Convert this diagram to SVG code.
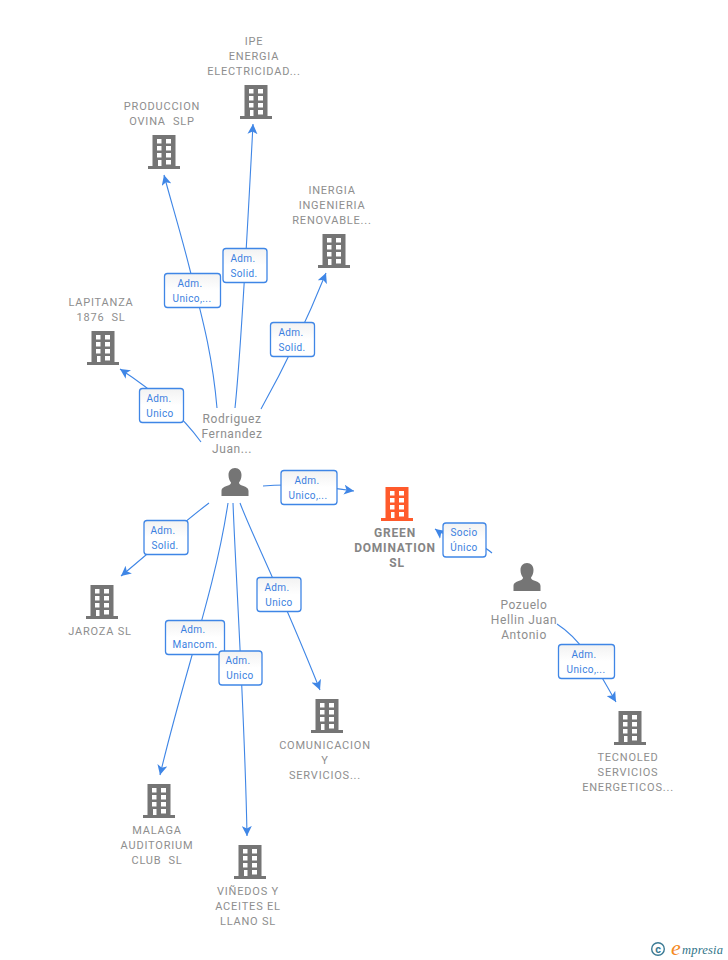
<svg xmlns="http://www.w3.org/2000/svg" width="728" height="960" viewBox="0 0 728 960">
<style>
text{font-family:Roboto,"Liberation Sans",sans-serif;white-space:pre}
.n{font-size:11px;fill:#8e8e8e;text-anchor:middle;letter-spacing:.8px}
.p{font-size:12px;fill:#8e8e8e;text-anchor:middle;letter-spacing:.6px}
.g{font-size:12px;font-weight:700;fill:#858585;text-anchor:middle;letter-spacing:.8px}
.e{font-size:10px;fill:#3a7fe0;text-anchor:middle;letter-spacing:.4px}
.b{fill:url(#lg);stroke:#3f86e6;stroke-width:1.3}
.c{fill:none;stroke:#3f86e6;stroke-width:1.1}
</style>
<defs>
<marker id="a" viewBox="0 0 10 10" refX="10" refY="5" markerWidth="10" markerHeight="10" markerUnits="userSpaceOnUse" orient="auto"><path d="M0 0L10 5L0 10L2.500 5Z" fill="#3f86e6"/></marker>
<linearGradient id="lg" x1="0" y1="0" x2="0" y2="1"><stop offset="0" stop-color="#f2f2f2"/><stop offset=".5" stop-color="#fff"/></linearGradient>
<path id="bld" fill-rule="evenodd" d="M-11.500 0H11.500V31H16V34H-16V31H-11.500ZM-7 4V8.500H-2.500V4ZM2 4V8.500H7V4ZM-7 11V15.500H-2.500V11ZM2 11V15.500H7V11ZM-7 18V22.500H-2.500V18ZM2 18V22.500H7V18ZM-6 25V31H-2.500V25ZM2 25V29.500H7V25Z"/>
<path id="per" d="M0 0C4 0 6.500 3 6.500 7C6.500 10 5.500 12.500 4 14.500C4 16 5 16.800 7 17.500C11 19 13.500 20 13.500 23V28H-13.500V23C-13.500 20 -11 19 -7 17.500C-5 16.800 -4 16 -4 14.500C-5.500 12.500 -6.500 10 -6.500 7C-6.500 3 -4 0 0 0Z"/>
</defs>
<g id="connectors">
<path class="c" d="M235 408C240 360 247 240 253 124" marker-end="url(#a)"/>
<path class="c" d="M217 408C212 350 200 310 190 270C180 230 172 205 164 175" marker-end="url(#a)"/>
<path class="c" d="M261 409C280 375 305 325 326 273" marker-end="url(#a)"/>
<path class="c" d="M201 442C185 420 160 395 120 369" marker-end="url(#a)"/>
<path class="c" d="M263 486C295 483 325 487 354 491" marker-end="url(#a)"/>
<path class="c" d="M209 503C180 525 150 552 121 576" marker-end="url(#a)"/>
<path class="c" d="M228 503C215 590 185 670 160 775" marker-end="url(#a)"/>
<path class="c" d="M233 503C236 580 245 720 247 836" marker-end="url(#a)"/>
<path class="c" d="M240 503C252 535 278 585 320 690" marker-end="url(#a)"/>
<path class="c" d="M492 553C478 540 450 540 435 529" marker-end="url(#a)"/>
<path class="c" d="M557 624C585 642 600 675 616 702" marker-end="url(#a)"/>
</g>
<g id="edge-labels">
<g><rect class="b" x="223" y="248.500" width="44" height="34" rx="3"/><text class="e" x="243" y="262">Adm.</text><text class="e" x="244" y="277">Solid.</text></g>
<g><rect class="b" x="164.500" y="273.500" width="56" height="34" rx="3"/><text class="e" x="190" y="287">Adm.</text><text class="e" x="192" y="302">Unico,...</text></g>
<g><rect class="b" x="270.500" y="322.500" width="44" height="34" rx="3"/><text class="e" x="291" y="336">Adm.</text><text class="e" x="292" y="351">Solid.</text></g>
<g><rect class="b" x="139.500" y="388.500" width="44" height="34" rx="3"/><text class="e" x="159" y="402">Adm.</text><text class="e" x="160" y="417">Unico</text></g>
<g><rect class="b" x="281" y="470.500" width="56" height="34" rx="3"/><text class="e" x="307" y="484">Adm.</text><text class="e" x="308" y="499">Unico,...</text></g>
<g><rect class="b" x="144" y="520.500" width="44" height="34" rx="3"/><text class="e" x="163" y="534">Adm.</text><text class="e" x="165" y="549">Solid.</text></g>
<g><rect class="b" x="257" y="577.500" width="44" height="34" rx="3"/><text class="e" x="277" y="591">Adm.</text><text class="e" x="279" y="606">Unico</text></g>
<g><rect class="b" x="165.500" y="620.500" width="59" height="34" rx="3"/><text class="e" x="193" y="633">Adm.</text><text class="e" x="195" y="648">Mancom.</text></g>
<g><rect class="b" x="219" y="651" width="43" height="34" rx="3"/><text class="e" x="238" y="664">Adm.</text><text class="e" x="240" y="679">Unico</text></g>
<g><rect class="b" x="443" y="523" width="43" height="34" rx="3"/><text class="e" x="464" y="536">Socio</text><text class="e" x="464" y="551">Único</text></g>
<g><rect class="b" x="558.500" y="644.500" width="56" height="34" rx="3"/><text class="e" x="584" y="658">Adm.</text><text class="e" x="586" y="673">Unico,...</text></g>
</g>
<g id="n-ipe"><use href="#bld" x="256" y="85" fill="#757575"/><text class="n" x="254" y="45">IPE</text><text class="n" x="254" y="60">ENERGIA</text><text class="n" x="254" y="75">ELECTRICIDAD...</text></g>
<g id="n-produccion"><use href="#bld" x="164" y="135" fill="#757575"/><text class="n" x="162" y="110">PRODUCCION</text><text class="n" x="162" y="125">OVINA  SLP</text></g>
<g id="n-inergia"><use href="#bld" x="334" y="234" fill="#757575"/><text class="n" x="332" y="194">INERGIA</text><text class="n" x="332" y="209">INGENIERIA</text><text class="n" x="332" y="224">RENOVABLE...</text></g>
<g id="n-lapitanza"><use href="#bld" x="103" y="331" fill="#757575"/><text class="n" x="101" y="306">LAPITANZA</text><text class="n" x="101" y="321">1876  SL</text></g>
<g id="n-rodriguez"><use href="#per" x="235" y="468" fill="#757575"/><text class="p" x="232" y="423">Rodriguez</text><text class="p" x="232" y="438">Fernandez</text><text class="p" x="232" y="453">Juan...</text></g>
<g id="n-green"><use href="#bld" x="397" y="487" fill="#ff5a2b"/><text class="g" x="395" y="537">GREEN</text><text class="g" x="395" y="552">DOMINATION</text><text class="g" x="397" y="567">SL</text></g>
<g id="n-pozuelo"><use href="#per" x="527" y="563" fill="#757575"/><text class="p" x="524" y="609">Pozuelo</text><text class="p" x="524" y="624">Hellin Juan</text><text class="p" x="524" y="639">Antonio</text></g>
<g id="n-jaroza"><use href="#bld" x="102" y="585" fill="#757575"/><text class="n" x="100" y="635">JAROZA SL</text></g>
<g id="n-malaga"><use href="#bld" x="159" y="784" fill="#757575"/><text class="n" x="157" y="834">MALAGA</text><text class="n" x="157" y="849">AUDITORIUM</text><text class="n" x="157" y="864">CLUB  SL</text></g>
<g id="n-vinedos"><use href="#bld" x="250" y="845" fill="#757575"/><text class="n" x="248" y="895">VIÑEDOS Y</text><text class="n" x="248" y="910">ACEITES EL</text><text class="n" x="248" y="925">LLANO SL</text></g>
<g id="n-comunicacion"><use href="#bld" x="327" y="699" fill="#757575"/><text class="n" x="325" y="749">COMUNICACION</text><text class="n" x="325" y="764">Y</text><text class="n" x="325" y="779">SERVICIOS...</text></g>
<g id="n-tecnoled"><use href="#bld" x="630" y="711" fill="#757575"/><text class="n" x="628" y="761">TECNOLED</text><text class="n" x="628" y="776">SERVICIOS</text><text class="n" x="628" y="791">ENERGETICOS...</text></g>
<g id="logo"><circle cx="658" cy="949" r="6.300" fill="none" stroke="#3b7a94" stroke-width="1.400"/><text x="658" y="952.500" font-size="11" font-weight="700" fill="#3b7a94" text-anchor="middle">c</text><text x="671" y="954.500" font-size="22" font-style="italic" fill="#f58a1f" style="font-family:'Liberation Serif',serif">e</text><text x="682" y="954" font-size="12.500" font-style="italic" fill="#2f7488" letter-spacing=".2" style="font-family:'Liberation Serif',serif">mpresia</text></g>
</svg>
